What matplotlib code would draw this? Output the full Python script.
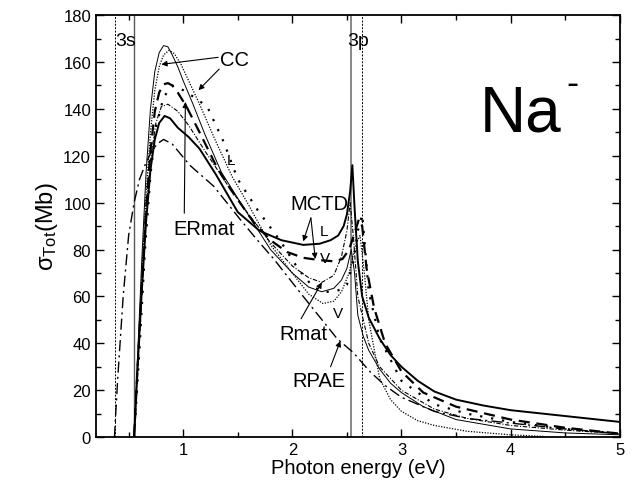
import matplotlib
matplotlib.use("Agg")
import matplotlib.pyplot as plt
from matplotlib.ticker import MultipleLocator

plt.rcParams['font.family'] = ['Liberation Sans', 'DejaVu Sans']
plt.rcParams['mathtext.fontset'] = 'custom'
plt.rcParams['mathtext.rm'] = 'Liberation Sans'
plt.rcParams['mathtext.it'] = 'Liberation Sans'

# thresholds (eV)
thr_3s = [0.374, 0.545]
thr_3p = [2.54, 2.64]

# MCTD (length), thick solid
mctd_L_x = [0.55, 0.58, 0.62, 0.66, 0.7, 0.74, 0.78, 0.83, 0.88, 0.95, 1.05, 1.15, 1.3, 1.5, 1.7,
            1.9, 2.1, 2.25, 2.35, 2.42, 2.47, 2.5, 2.53, 2.55, 2.57, 2.6, 2.64, 2.7, 2.8, 2.9,
            3.0, 3.15, 3.3, 3.5, 3.75, 4.0, 4.5, 5.0]
mctd_L_y = [0, 28, 62, 92, 114, 127, 134, 137, 136, 132, 128, 123, 112, 96, 88,
            84, 82, 82.5, 84, 86, 90, 95, 105, 116, 98, 75, 60, 51, 42, 35,
            30, 24, 19.5, 16, 13.5, 11.5, 9, 6.5]

# MCTD (velocity), thick dashed
mctd_V_x = [0.55, 0.58, 0.62, 0.66, 0.7, 0.74, 0.78, 0.82, 0.86, 0.9, 0.95, 1.03, 1.15, 1.31, 1.43,
            1.64, 1.8, 1.95, 2.1, 2.25, 2.38, 2.46, 2.52, 2.57, 2.61, 2.64, 2.68, 2.75, 2.85,
            3.0, 3.2, 3.5, 4.0, 4.5, 5.0]
mctd_V_y = [0, 28, 63, 97, 122, 139, 147, 150.5, 151, 150, 147, 141, 130, 115, 106,
            92, 84, 79, 76.5, 75.5, 75, 76, 80, 87, 93, 90, 72, 55, 40,
            28, 19, 13, 7.5, 4, 1.5]

# CC (length), thin solid
cc_L_x = [0.55, 0.58, 0.62, 0.66, 0.7, 0.74, 0.78, 0.82, 0.86, 0.9, 0.95, 1.0, 1.09, 1.2, 1.35,
          1.58, 1.8, 2.0, 2.15, 2.27, 2.38, 2.45, 2.5, 2.54, 2.57, 2.6, 2.65, 2.7, 2.8, 2.9,
          3.0, 3.2, 3.5, 4.0, 4.5, 5.0]
cc_L_y = [0, 32, 75, 113, 140, 156, 164, 167, 166.5, 163, 158, 152, 142, 129, 113,
          96, 80, 70, 64, 62, 63.5, 67, 72, 80, 70, 52, 43, 37, 29, 23,
          19, 13, 7.5, 3.5, 1.8, 1]

# CC (velocity), fine dotted
cc_V_x = [0.55, 0.58, 0.62, 0.66, 0.7, 0.74, 0.78, 0.82, 0.87, 0.92, 0.98, 1.05, 1.15, 1.3, 1.45,
          1.6, 1.8, 2.0, 2.15, 2.28, 2.38, 2.45, 2.52, 2.58, 2.62, 2.66, 2.7, 2.8, 2.9, 3.0,
          3.15, 3.3, 3.6, 4.0, 4.3]
cc_V_y = [0, 28, 68, 104, 130, 148, 158, 163, 165, 163.5, 159, 152, 142, 126, 111,
          99, 82, 70, 61, 57, 58, 62, 70, 82, 86, 70, 50, 25, 16, 11,
          7, 5, 2.5, 1, 0.3]

# ERmat, sparse heavy dots
er_x = [0.55, 0.6, 0.65, 0.7, 0.75, 0.82, 0.9, 1.0, 1.1, 1.22, 1.37, 1.5, 1.68, 1.9, 2.05, 2.19,
        2.3, 2.37, 2.45, 2.5, 2.56, 2.6, 2.64, 2.7, 2.8, 3.0, 3.3, 3.6, 4.0, 4.5, 5.0]
er_y = [0, 38, 80, 112, 132, 145, 150, 148, 145, 141, 126, 110, 97, 83, 72, 64,
        62, 62, 63, 65, 75, 88, 95, 62, 42, 24, 14, 10, 6.5, 3.5, 1.5]

# Rmat, thin dash-dot
rm_x = [0.55, 0.58, 0.62, 0.66, 0.7, 0.75, 0.8, 0.86, 0.95, 1.05, 1.2, 1.4, 1.6, 1.8, 2.0, 2.15,
        2.27, 2.38, 2.45, 2.5, 2.53, 2.56, 2.6, 2.7, 2.8, 3.0, 3.3, 3.6, 4.0, 4.5, 5.0]
rm_y = [0, 27, 64, 98, 118, 134, 141, 142, 139, 133, 122, 108, 95, 83, 73, 68,
        66, 69, 77, 88, 100, 85, 60, 40, 30, 20, 12, 8, 5, 3, 1.5]

# RPAE, long dash-dot
rpae_x = [0.37, 0.4, 0.45, 0.5, 0.55, 0.6, 0.65, 0.7, 0.76, 0.82, 0.9, 1.06, 1.28, 1.52, 1.68,
          1.83, 2.1, 2.41, 2.56, 2.71, 2.85, 3.0, 3.3, 3.6, 4.0, 4.5, 5.0]
rpae_y = [0, 25, 60, 86, 100, 110, 116, 121, 125, 127, 125, 116, 107, 93, 84,
          76, 60, 42, 36, 28, 22, 17, 11, 8, 6, 3.5, 1.5]

fig = plt.figure(figsize=(6.35, 4.89), dpi=100)
ax = fig.add_axes([0.151, 0.104, 0.825, 0.863])

# threshold lines
ax.axvline(thr_3s[0], color='k', lw=0.7, ls=(0, (2, 1.5)))
ax.axvline(thr_3s[1], color='0.35', lw=1.0)
ax.axvline(thr_3p[0], color='0.45', lw=1.2)
ax.axvline(thr_3p[1], color='k', lw=0.7, ls=(0, (2, 1.5)))

ax.plot(mctd_L_x, mctd_L_y, color='k', lw=1.4)
ax.plot(mctd_V_x, mctd_V_y, color='k', lw=1.6, ls=(0, (5, 3)))
ax.plot(cc_L_x, cc_L_y, color='k', lw=0.7)
ax.plot(cc_V_x, cc_V_y, color='k', lw=0.9, ls=(0, (1, 1.2)))
ax.plot(er_x, er_y, color='k', lw=1.6, ls=(0, (1, 4)))
ax.plot(rm_x, rm_y, color='k', lw=0.8, ls=(0, (4, 1.5, 1, 1.5)))
ax.plot(rpae_x, rpae_y, color='k', lw=1.0, ls=(0, (8, 3, 1.5, 3)))

# labels
ax.text(0.375, 169, '3s', fontsize=14, va='center', ha='left')
ax.text(2.6, 169, '3p', fontsize=14, va='center', ha='center')
ax.text(3.72, 131, 'Na', fontsize=46, va='baseline')
ax.text(4.57, 147, '-', fontsize=26, va='baseline', ha='center')

lab = 14.5
arr = dict(arrowstyle='-|>', color='k', lw=0.8, mutation_scale=8, shrinkA=0, shrinkB=0)
ax.text(1.47, 161, 'CC', fontsize=lab, ha='center', va='center')
ax.annotate('', xy=(0.8, 159), xytext=(1.32, 162), arrowprops=arr)
ax.annotate('', xy=(1.14, 148), xytext=(1.33, 157), arrowprops=arr)

ax.text(1.19, 89, 'ERmat', fontsize=lab, ha='center', va='center')
ax.annotate('', xy=(1.02, 143), xytext=(1.01, 95.5), arrowprops=arr)

ax.text(2.25, 99.5, 'MCTD', fontsize=lab, ha='center', va='center')
ax.annotate('', xy=(2.1, 83.5), xytext=(2.17, 93.5), arrowprops=arr)
ax.annotate('', xy=(2.21, 76), xytext=(2.17, 93.5), arrowprops=arr)
ax.text(2.29, 88, 'L', fontsize=11, ha='center', va='center')
ax.text(2.3, 76.5, 'V', fontsize=11, ha='center', va='center')
ax.text(1.44, 118, 'L', fontsize=11, ha='center', va='center')

ax.text(2.1, 44, 'Rmat', fontsize=lab, ha='center', va='center')
ax.annotate('', xy=(2.27, 66), xytext=(2.08, 50.5), arrowprops=arr)
ax.text(2.42, 53, 'V', fontsize=11, ha='center', va='center')

ax.text(2.24, 24, 'RPAE', fontsize=lab, ha='center', va='center')
ax.annotate('', xy=(2.44, 41), xytext=(2.35, 30), arrowprops=arr)

ax.set_xlim(0.2, 5)
ax.set_ylim(0, 180)
ax.xaxis.set_major_locator(MultipleLocator(1))
ax.xaxis.set_minor_locator(MultipleLocator(0.5))
ax.yaxis.set_major_locator(MultipleLocator(20))
ax.yaxis.set_minor_locator(MultipleLocator(10))
ax.tick_params(which='both', direction='in', top=True, right=True, labelsize=12)
ax.tick_params(which='major', length=6, width=1)
ax.tick_params(which='minor', length=3.5, width=1)
for s in ax.spines.values():
    s.set_linewidth(1.3)

ax.set_xlabel('Photon energy (eV)', fontsize=14.5, labelpad=1)
ax.set_ylabel(r'$\mathregular{\sigma_{Tot}}$(Mb)', fontsize=17, labelpad=2)

fig.savefig('out.png', dpi=100)
